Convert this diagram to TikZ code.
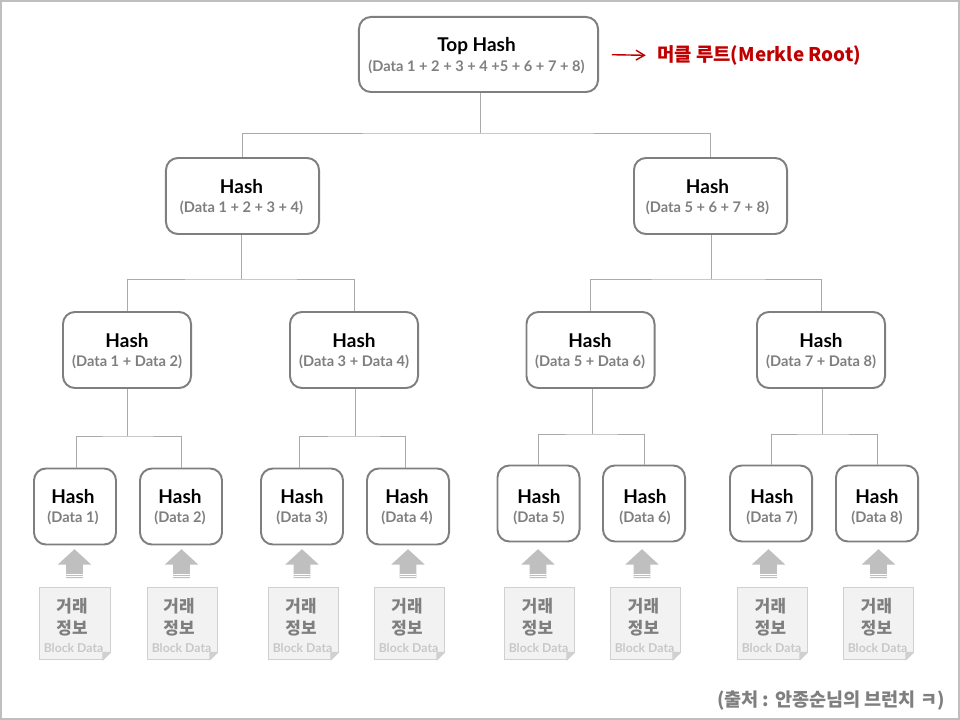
\documentclass[tikz,border=0pt]{standalone}
\usepackage{fontspec}
\setmainfont{Lato}
\newfontfamily\krfont{Noto Sans CJK KR}
\usetikzlibrary{positioning, arrows.meta, shapes.arrows}
\definecolor{boxgrey}{RGB}{127,127,127}
\definecolor{linegrey}{RGB}{170,170,170}
\definecolor{framegrey}{RGB}{191,191,191}
\definecolor{arrowgrey}{RGB}{191,191,191}
\definecolor{paperfill}{RGB}{242,242,242}
\definecolor{paperline}{RGB}{208,208,208}
\definecolor{blocktxt}{RGB}{200,200,200}
\definecolor{merklered}{RGB}{192,0,0}
\newcommand{\datatxt}[1]{{\fontsize{10.4}{12}\selectfont\color{boxgrey}#1}}
\newcommand{\foldcorner}[1]{%
    \fill[white] ([xshift=-5.4pt]#1.south east) -- ([xshift=0.6pt, yshift=-0.6pt]#1.south east) -- ([xshift=0.6pt, yshift=5.4pt]#1.south east) -- cycle;
    \filldraw[paperline, line width=0.7pt, line join=round] ([xshift=-5.4pt]#1.south east) -- ([xshift=-5.4pt, yshift=5.4pt]#1.south east) -- ([yshift=5.4pt]#1.south east) -- cycle;}
\tikzset{
    hashbox/.style={rectangle, rounded corners=8.5pt, draw=boxgrey, fill=white, line width=1.4pt, inner sep=0pt},
    hashtop/.style={hashbox, minimum width=5.975cm, minimum height=1.875cm},
    hashone/.style={hashbox, minimum width=3.825cm, minimum height=1.9cm},
    hashtwo/.style={hashbox, minimum width=3.2cm, minimum height=1.9cm},
    hashleaf/.style={hashbox, minimum width=2.05cm, minimum height=1.9cm},
    hashlbl/.style={align=center, font=\fontsize{13.5}{15}\selectfont\bfseries, inner sep=0pt},
    treeline/.style={draw=linegrey, line width=0.7pt},
    uparrow/.style={single arrow, shape border rotate=90, fill=arrowgrey, inner sep=5.7pt, minimum height=20.6pt, single arrow head extend=6pt, single arrow head indent=0pt, single arrow tip angle=95,
        path picture={\draw[white, line width=0.35pt] ([yshift=2.6pt]path picture bounding box.south west) -- ([yshift=2.6pt]path picture bounding box.south east);
            \draw[white, line width=0.35pt] ([yshift=1.2pt]path picture bounding box.south west) -- ([yshift=1.2pt]path picture bounding box.south east);}},
    paper/.style={rectangle, draw=paperline, fill=paperfill, line width=0.7pt, minimum width=1.75cm, minimum height=1.8cm, inner sep=0pt, align=center},
    papertxt/.style={font=\krfont\fontsize{12}{16}\selectfont\bfseries, text=boxgrey, align=center, inner sep=0pt},
    blocklbl/.style={font=\fontsize{8.7}{10}\selectfont\bfseries, text=blocktxt, inner sep=0pt},
    rootarrow/.style={-{Straight Barb[length=6pt, width=7pt]}, color=merklered, line width=1pt, shorten <=9.2pt, shorten >=8pt}
}
\begin{document}
\begin{tikzpicture}[x=0.025cm, y=-0.025cm]
        \useasboundingbox (0,0) rectangle (960,720);
        \draw[framegrey, line width=1.5pt] (1,1) rectangle (959,719);

        % === Level 0: root ===
        \node[hashtop] (top) at (478.5,54.5) {};
        \node[hashlbl] (ltop) at (476.5,55.5) {Top Hash\\[-1pt]\datatxt{(Data 1 + 2 + 3 + 4 +5 + 6 + 7 + 8)}};
        \node[font=\krfont\fontsize{13.4}{15}\selectfont\bfseries, text=merklered, anchor=west, inner sep=0pt] (merkle) at (657,55.5) {머클 루트(Merkle Root)};
        \draw[rootarrow] (top.east) -- (merkle.west);

        % === Level 1 ===
        \node[hashone] (h14) at (242.5,196) {};
        \node[hashone] (h58) at (710.5,196) {};
        \node[hashlbl] (l14) at (241.5,197) {Hash\\[-1pt]\datatxt{(Data 1 + 2 + 3 + 4)}};
        \node[hashlbl] (l58) at (707.5,197) {Hash\\[-1pt]\datatxt{(Data 5 + 6 + 7 + 8)}};

        % === Level 2 ===
        \node[hashtwo] (h12) at (127,350) {};
        \node[hashtwo] (h34) at (354,350) {};
        \node[hashtwo] (h56) at (590.5,350) {};
        \node[hashtwo] (h78) at (821,350) {};
        \node[hashlbl] (l12) at (127,351) {Hash\\[-1pt]\datatxt{(Data 1 + Data 2)}};
        \node[hashlbl] (l34) at (354,351) {Hash\\[-1pt]\datatxt{(Data 3 + Data 4)}};
        \node[hashlbl] (l56) at (590,351) {Hash\\[-1pt]\datatxt{(Data 5 + Data 6)}};
        \node[hashlbl] (l78) at (821,351) {Hash\\[-1pt]\datatxt{(Data 7 + Data 8)}};

        % === Level 3: leaves ===
        \node[hashleaf] (h1) at (75,506.5) {};
        \node[hashleaf] (h2) at (181,506.5) {};
        \node[hashleaf] (h3) at (302,506.5) {};
        \node[hashleaf] (h4) at (408,506.5) {};
        \node[hashleaf] (h5) at (538.5,503.5) {};
        \node[hashleaf] (h6) at (644,503.5) {};
        \node[hashleaf] (h7) at (771,503.5) {};
        \node[hashleaf] (h8) at (877,503.5) {};
        \node[hashlbl] (l1) at (73,507) {Hash\\[-1pt]\datatxt{(Data 1)}};
        \node[hashlbl] (l2) at (180,507) {Hash\\[-1pt]\datatxt{(Data 2)}};
        \node[hashlbl] (l3) at (302,507) {Hash\\[-1pt]\datatxt{(Data 3)}};
        \node[hashlbl] (l4) at (407,507) {Hash\\[-1pt]\datatxt{(Data 4)}};
        \node[hashlbl] (l5) at (539,507) {Hash\\[-1pt]\datatxt{(Data 5)}};
        \node[hashlbl] (l6) at (645,507) {Hash\\[-1pt]\datatxt{(Data 6)}};
        \node[hashlbl] (l7) at (772,507) {Hash\\[-1pt]\datatxt{(Data 7)}};
        \node[hashlbl] (l8) at (877,507) {Hash\\[-1pt]\datatxt{(Data 8)}};

        % === Tree lines ===
        \coordinate (j0) at (480,133);
        \coordinate (j1) at (241,279);
        \coordinate (j2) at (711,279);
        \coordinate (j3) at (127,436);
        \coordinate (j4) at (355,436);
        \coordinate (j5) at (592,434);
        \coordinate (j6) at (822,434);
        \draw[treeline] (j0 |- top.south) -- (j0);
        \draw[treeline] (h14.north) |- (j0) -| (h58.north);
        \draw[treeline] (j1 |- h14.south) -- (j1);
        \draw[treeline] (h12.north) |- (j1) -| (h34.north);
        \draw[treeline] (j2 |- h58.south) -- (j2);
        \draw[treeline] (h56.north) |- (j2) -| (h78.north);
        \draw[treeline] (j3 |- h12.south) -- (j3);
        \draw[treeline] ([xshift=1.4pt]h1.north) |- (j3) -| (h2.north);
        \draw[treeline] (j4 |- h34.south) -- (j4);
        \draw[treeline] ([xshift=-2.1pt]h3.north) |- (j4) -| ([xshift=-2.1pt]h4.north);
        \draw[treeline] (j5 |- h56.south) -- (j5);
        \draw[treeline] (h5.north) |- (j5) -| (h6.north);
        \draw[treeline] (j6 |- h78.south) -- (j6);
        \draw[treeline] (h7.north) |- (j6) -| (h8.north);

        % === Arrows from block data ===
        \node[uparrow] (a1) at (74.5,567.5) {};
        \node[uparrow] (a2) at (181.5,567.5) {};
        \node[uparrow] (a3) at (302,567.5) {};
        \node[uparrow] (a4) at (408,567.5) {};
        \node[uparrow] (a5) at (538,567.5) {};
        \node[uparrow] (a6) at (642,567.5) {};
        \node[uparrow] (a7) at (768.5,567.5) {};
        \node[uparrow] (a8) at (878.5,567.5) {};

        % === Block data sheets ===
        \node[paper] (p1) at (75,623.5) {};
        \node[paper] (p2) at (182,623.5) {};
        \node[paper] (p3) at (303,623.5) {};
        \node[paper] (p4) at (409,623.5) {};
        \node[paper] (p5) at (539,623.5) {};
        \node[paper] (p6) at (645,623.5) {};
        \node[paper] (p7) at (772,623.5) {};
        \node[paper] (p8) at (878,623.5) {};
        \foldcorner{p1} \foldcorner{p2} \foldcorner{p3} \foldcorner{p4}
        \foldcorner{p5} \foldcorner{p6} \foldcorner{p7} \foldcorner{p8}
        \node[papertxt] (t1) at (72,617) {거래\\정보};
        \node[papertxt] (t2) at (179,617) {거래\\정보};
        \node[papertxt] (t3) at (301,617) {거래\\정보};
        \node[papertxt] (t4) at (407,617) {거래\\정보};
        \node[papertxt] (t5) at (537.5,617) {거래\\정보};
        \node[papertxt] (t6) at (643.5,617) {거래\\정보};
        \node[papertxt] (t7) at (770.5,617) {거래\\정보};
        \node[papertxt] (t8) at (876.5,617) {거래\\정보};
        \node[blocklbl] (b1) at (73.5,648) {Block Data};
        \node[blocklbl] (b2) at (181.5,648) {Block Data};
        \node[blocklbl] (b3) at (302.5,648) {Block Data};
        \node[blocklbl] (b4) at (408.5,648) {Block Data};
        \node[blocklbl] (b5) at (538.5,648) {Block Data};
        \node[blocklbl] (b6) at (644.5,648) {Block Data};
        \node[blocklbl] (b7) at (771.5,648) {Block Data};
        \node[blocklbl] (b8) at (877.5,648) {Block Data};

        % === Source note ===
        \node[font=\krfont\fontsize{13.2}{15}\selectfont\bfseries, text=boxgrey, anchor=east, inner sep=0pt] (src) at (945,701) {(출처 : 안종순님의 브런치 ㅋ)};
    \end{tikzpicture}
\end{document}
